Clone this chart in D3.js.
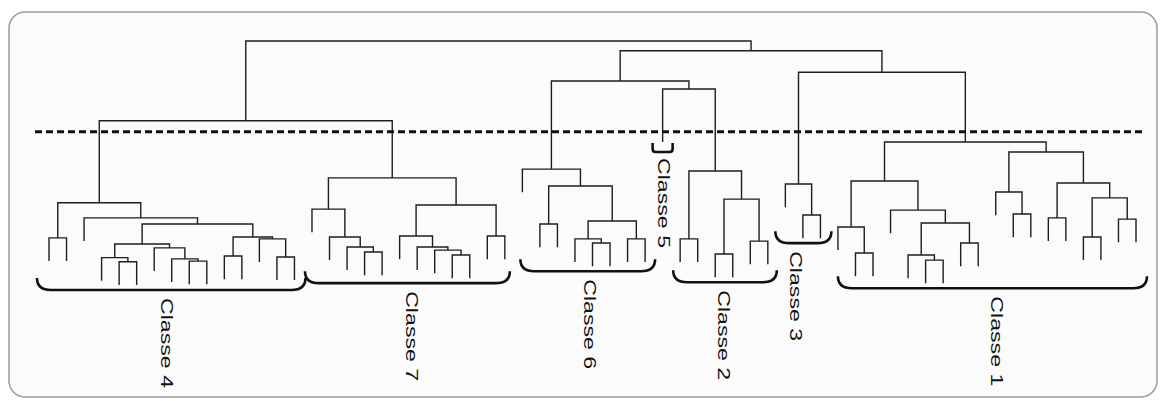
<!DOCTYPE html>
<html><head><meta charset="utf-8">
<script src="https://cdn.jsdelivr.net/npm/d3@7"></script>
<style>html,body{margin:0;padding:0;background:#fff;} svg{display:block;}</style>
</head><body>
<svg id="chart" width="1162" height="401"></svg>
<script>
// ---- data ----
const leafCount = 63;
// each merge: [first leaf, last leaf of left child, last leaf] (leaf order left to right)
const merges = [
 [0,26,62],
 [0,14,26],
 [0,1,14],[0,0,1],[2,2,14],[3,9,14],[3,5,9],[3,3,5],[4,4,5],[6,6,9],[7,7,9],[8,8,9],[10,11,14],[10,10,11],[12,12,14],[13,13,14],
 [15,19,26],[15,15,19],[16,16,19],[17,17,19],[18,18,19],[20,24,26],[20,20,24],[21,21,24],[22,22,24],[23,23,24],[25,25,26],
 [27,41,62],[27,34,41],[35,35,41],
 [27,27,34],[28,29,34],[28,28,29],[30,32,34],[30,30,32],[31,31,32],[33,33,34],
 [36,37,41],[36,36,37],[38,39,41],[38,38,39],[40,40,41],
 [42,44,62],[42,42,44],[43,43,44],
 [45,53,62],[45,47,53],[45,45,47],[46,46,47],[48,48,53],[49,51,53],[49,49,51],[50,50,51],[52,52,53],
 [54,56,62],[54,54,56],[55,55,56],[57,58,62],[57,57,58],[59,60,62],[59,59,60],[61,61,62]
];
const heights = [
 100,
 67.3,
 33.7,19.3,27.5,25.0,16.8,11.2,9.5,15.2,10.7,9.8,19.7,11.9,18.9,11.5,
 43.9,31.1,19.7,15.6,13.5,32.8,20.1,15.6,14.3,12.3,20.1,
 96.0,83.6,80.3,
 47.5,40.6,25.0,26.2,18.9,17.2,18.9,
 46.7,18.9,35.2,12.7,18.0,
 87.2,41.4,28.7,
 58.6,42.6,23.8,13.1,30.7,25.4,12.3,10.2,17.2,
 54.5,38.1,29.1,41.8,27.5,35.7,19.7,27.0
];
const hang = 9.5;
const leafTipOverride = [[35, 58.6]];
const cutHeight = 62.8;
const classNames = ["Classe 4","Classe 7","Classe 6","Classe 5","Classe 2","Classe 3","Classe 1"];
const classFirstLeaf = [0,15,27,35,36,42,45];
const classLastLeaf  = [14,26,34,35,41,44,62];

// ---- styling tweaks (layout only) ----
const braceInset = {"Classe 4":[12,11],"Classe 7":[7,5],"Classe 6":[2,10],"Classe 5":[10,10],
                    "Classe 2":[7,9],"Classe 3":[10,11],"Classe 1":[0,11]};
const labelDx = {"Classe 4":-4,"Classe 7":4.5,"Classe 6":2,"Classe 5":1,"Classe 2":-1,"Classe 3":-7,"Classe 1":4.5};

const svg = d3.select("#chart");
svg.append("rect").attr("x",9).attr("y",12).attr("width",1148).attr("height",385)
  .attr("rx",16).attr("fill","#fbfbfb").attr("stroke","#9a9a9a").attr("stroke-width",1.5);

const x = d3.scaleLinear().domain([0, leafCount-1]).range([49, 1136]);
const y = d3.scaleLinear().domain([0, 100]).range([285, 41]);

const key = (a,b)=>a+"-"+b;
const mergeMap = new Map(merges.map((m,i)=>[key(m[0],m[2]), {split:m[1], h:heights[i]}]));
function build(lo,hi){
  if (lo===hi) return {leaf:lo};
  const m = mergeMap.get(key(lo,hi));
  return {h:m.h, children:[build(lo,m.split), build(m.split+1,hi)]};
}
const tipMap = new Map(leafTipOverride);
const root = d3.hierarchy(build(0, leafCount-1));
root.eachAfter(n => { n.px = n.children ? (n.children[0].px + n.children[1].px)/2 : x(n.data.leaf); });
root.each(n => {
  if (n.children) n.py = y(n.data.h);
  else n.py = y(tipMap.has(n.data.leaf) ? tipMap.get(n.data.leaf) : n.parent.data.h - hang);
});

const g = svg.append("g");
g.selectAll("path.link").data(root.descendants().filter(n=>n.children)).join("path")
  .attr("class","link")
  .attr("fill","none").attr("stroke","#1e1e1e").attr("stroke-width",1.4)
  .attr("d", n => {
    const [a,b] = n.children;
    return `M${a.px},${a.py}V${n.py}H${b.px}V${b.py}`;
  });

// cut line
svg.append("line").attr("x1",35).attr("x2",1146).attr("y1",y(cutHeight)).attr("y2",y(cutHeight))
  .attr("stroke","#111").attr("stroke-width",3).attr("stroke-dasharray","7,4");

// braces + labels
const leaves = root.leaves();
classNames.forEach((name,i)=>{
  const lo = classFirstLeaf[i], hi = classLastLeaf[i];
  const ls = leaves.filter(l => l.data.leaf>=lo && l.data.leaf<=hi);
  const maxTip = d3.max(ls, l=>l.py);
  const [pl, pr] = braceInset[name];
  const x0 = x(lo)-pl, x1 = x(hi)+pr;
  let path, yb;
  if (lo===hi) {
    const top = maxTip+1;
    yb = top+9;
    path = `M${x0},${top}V${yb-3}Q${x0},${yb} ${x0+3},${yb}H${x1-3}Q${x1},${yb} ${x1},${yb-3}V${top}`;
  } else {
    yb = maxTip+5;
    path = `M${x0},${yb-12}Q${x0},${yb} ${x0+14},${yb}H${x1-14}Q${x1},${yb} ${x1},${yb-12}`;
  }
  const cx = (x0+x1)/2;
  svg.append("path").attr("d",path).attr("fill","none").attr("stroke","#111").attr("stroke-width",2.6);
  const lx = cx + (labelDx[name]||0) - 6;
  const ly = yb + (lo===hi ? 6 : 8);
  svg.append("text").attr("transform",`translate(${lx},${ly}) rotate(90)`)
    .attr("font-family","'Liberation Sans', Arial, sans-serif").attr("font-size",17)
    .attr("fill","#111").attr("textLength",90).attr("lengthAdjust","spacingAndGlyphs")
    .text(name);
});
</script>
</body></html>
